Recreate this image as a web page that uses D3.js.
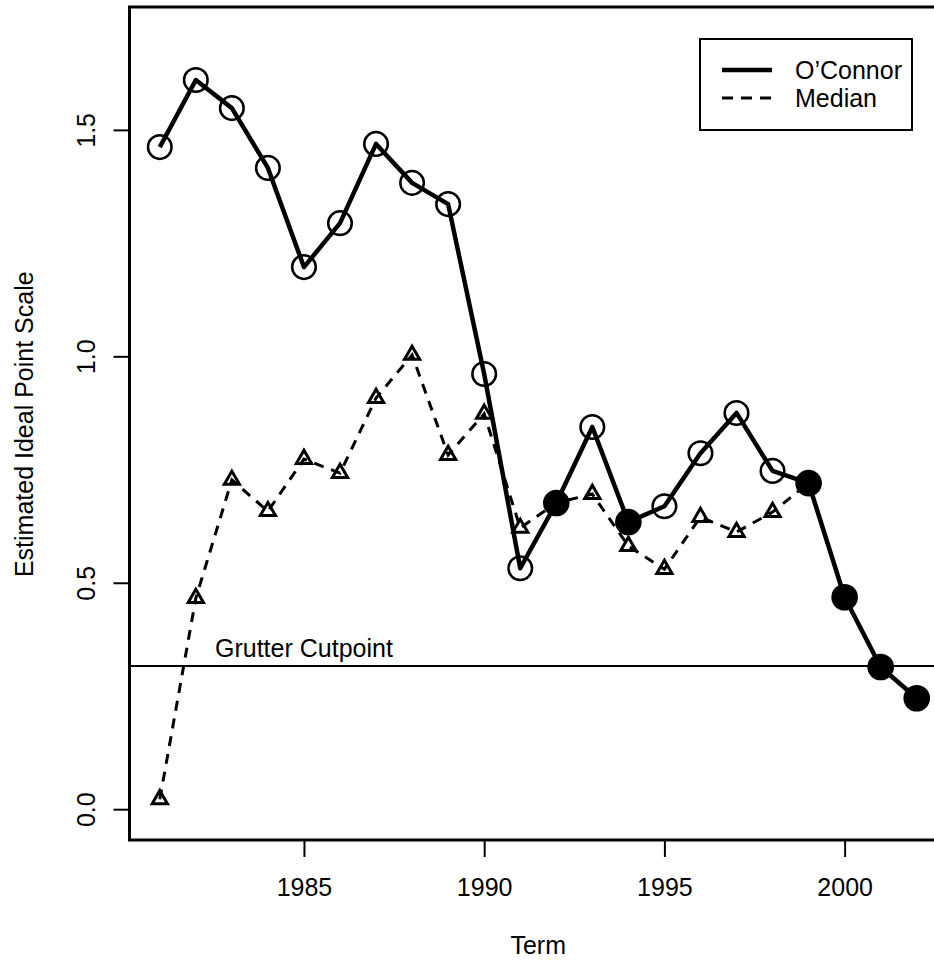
<!DOCTYPE html>
<html>
<head>
<meta charset="utf-8">
<script src="https://cdn.jsdelivr.net/npm/d3@7"></script>
<style>
  html, body { margin: 0; padding: 0; background: #fff; }
  svg { display: block; }
  text { font-family: "Liberation Sans", Arial, Helvetica, sans-serif; fill: #000; }
</style>
</head>
<body>
<svg id="chart" width="934" height="960"></svg>
<script>
// ---- data ----
const years = [1981, 1982, 1983, 1984, 1985, 1986, 1987, 1988, 1989, 1990, 1991,
               1992, 1993, 1994, 1995, 1996, 1997, 1998, 1999, 2000, 2001, 2002];
const oconnor = [1.462, 1.610, 1.548, 1.416, 1.197, 1.294, 1.469, 1.383, 1.336, 0.961, 0.532,
                 0.676, 0.844, 0.634, 0.669, 0.786, 0.875, 0.747, 0.720, 0.468, 0.314, 0.245];
const medianVals = [0.022, 0.466, 0.727, 0.658, 0.773, 0.742, 0.908, 1.003, 0.782, 0.873, 0.621,
                    0.676, 0.696, 0.581, 0.530, 0.645, 0.612, 0.656, 0.720, 0.468, 0.314, 0.245];
// filled symbol years (solid dots)
const filled = [0, 0, 0, 0, 0, 0, 0, 0, 0, 0, 0,
                1, 0, 1, 0, 0, 0, 0, 1, 1, 1, 1];
const xTicks = [1985, 1990, 1995, 2000];
const yTicks = [0, 0.5, 1.0, 1.5];
const cutpoint = 0.316;
const cutLabel = "Grutter Cutpoint";
const xTitle = "Term";
const yTitle = "Estimated Ideal Point Scale";
const legendLabels = ["O\u2019Connor", "Median"];

// ---- layout ----
const svg = d3.select("#chart");
const L = 129.5, R = 947, T = 8.5, B = 840;
const x = d3.scaleLinear().domain([1980.16, 2002.84]).range([L, R]);
const y = d3.scaleLinear().domain([-0.068, 1.768]).range([B, T]);
const FS = 25;

const oc = years.map((yr, i) => ({ yr, v: oconnor[i], f: filled[i] }));
const md = years.map((yr, i) => ({ yr, v: medianVals[i] }));

const plot = svg.append("g");
svg.append("clipPath").attr("id", "clip")
  .append("rect").attr("x", L).attr("y", T - 2).attr("width", R - L).attr("height", B - T + 2);

// Grutter cutpoint line
plot.append("line")
  .attr("x1", L).attr("x2", R)
  .attr("y1", y(cutpoint)).attr("y2", y(cutpoint))
  .attr("stroke", "#000").attr("stroke-width", 2);
plot.append("text")
  .attr("x", 215).attr("y", y(cutpoint) - 9)
  .attr("font-size", FS).text(cutLabel);

const line = d3.line().x(d => x(d.yr)).y(d => y(d.v));

// Median series (dashed, triangles)
plot.append("path").datum(md)
  .attr("d", line).attr("fill", "none")
  .attr("stroke", "#000").attr("stroke-width", 3)
  .attr("stroke-dasharray", "10,8");
const tr = 8.8;
const triPath = `M0,${-tr} L${tr * Math.sqrt(3) / 2},${tr / 2} L${-tr * Math.sqrt(3) / 2},${tr / 2} Z`;
plot.selectAll("path.tri").data(md).join("path")
  .attr("class", "tri")
  .attr("transform", d => `translate(${x(d.yr)},${y(d.v)})`)
  .attr("d", triPath)
  .attr("fill", "none").attr("stroke", "#000").attr("stroke-width", 3)
  .attr("stroke-linejoin", "miter");

// O'Connor series (solid, circles)
plot.append("path").datum(oc)
  .attr("d", line).attr("fill", "none")
  .attr("stroke", "#000").attr("stroke-width", 4.5)
  .attr("stroke-linejoin", "round");
plot.selectAll("circle.oc").data(oc).join("circle")
  .attr("class", "oc")
  .attr("cx", d => x(d.yr)).attr("cy", d => y(d.v))
  .attr("r", d => d.f ? 13.3 : 11.8)
  .attr("fill", d => d.f ? "#000" : "none")
  .attr("stroke", "#000").attr("stroke-width", d => d.f ? 0 : 2.5);

plot.attr("clip-path", "url(#clip)");

// frame
svg.append("rect")
  .attr("x", L).attr("y", 7).attr("width", R - L).attr("height", B - 7)
  .attr("fill", "none").attr("stroke", "#000").attr("stroke-width", 3);

// axes
const yAxis = svg.append("g").attr("transform", `translate(${L},0)`)
  .call(d3.axisLeft(y).tickValues(yTicks).tickSize(16).tickFormat(d3.format(".1f")));
yAxis.select(".domain").remove();
yAxis.selectAll("line").attr("stroke", "#000").attr("stroke-width", 2);
yAxis.selectAll("text")
  .attr("x", null).attr("dy", null)
  .attr("transform", `translate(-34.5,0) rotate(-90)`)
  .attr("text-anchor", "middle")
  .attr("font-size", FS).attr("font-family", null).attr("fill", "#000");

const xAxis = svg.append("g").attr("transform", `translate(0,${B})`)
  .call(d3.axisBottom(x).tickValues(xTicks).tickSize(17).tickFormat(d3.format("d")));
xAxis.select(".domain").remove();
xAxis.selectAll("line").attr("stroke", "#000").attr("stroke-width", 2);
xAxis.selectAll("text")
  .attr("y", 56).attr("dy", null)
  .attr("font-size", FS).attr("font-family", null).attr("fill", "#000");

// titles
svg.append("text")
  .attr("x", (L + R) / 2).attr("y", 954)
  .attr("text-anchor", "middle").attr("font-size", FS).text(xTitle);
svg.append("text")
  .attr("transform", `translate(33,${(T + B) / 2}) rotate(-90)`)
  .attr("text-anchor", "middle").attr("font-size", FS).text(yTitle);

// legend
const lg = svg.append("g");
lg.append("rect").attr("x", 700).attr("y", 39).attr("width", 212).attr("height", 91)
  .attr("fill", "#fff").attr("stroke", "#000").attr("stroke-width", 2);
const rows = [70, 98];
lg.append("line").attr("x1", 722).attr("x2", 772).attr("y1", rows[0]).attr("y2", rows[0])
  .attr("stroke", "#000").attr("stroke-width", 4.5);
lg.append("line").attr("x1", 722).attr("x2", 772).attr("y1", rows[1]).attr("y2", rows[1])
  .attr("stroke", "#000").attr("stroke-width", 3).attr("stroke-dasharray", "11,8");
lg.selectAll("text.lt").data(legendLabels).join("text")
  .attr("class", "lt")
  .attr("x", 795).attr("y", (d, i) => rows[i] + 9)
  .attr("font-size", FS).text(d => d);
</script>
</body>
</html>
